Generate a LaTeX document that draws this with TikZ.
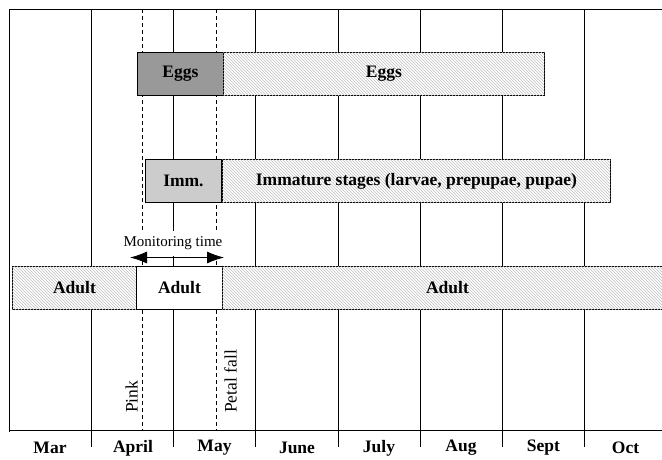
\documentclass[tikz,border=0pt]{standalone}
\usepackage{fontspec}
\setmainfont{Liberation Serif}
\usetikzlibrary{arrows.meta,%
                patterns,positioning}

\tikzset{
  bar/.style={draw, line width=0.9pt, minimum height=43pt, anchor=north west,
              inner sep=0pt, font=\fontsize{17.5}{20}\selectfont\bfseries},
  hatchbar/.style={bar, fill=white,
              postaction={pattern=north west lines, pattern color=black!25}},
  darkbar/.style={bar, fill=black!40},
  lightbar/.style={bar, fill=black!20},
  whitebar/.style={bar, fill=white},
  month/.style={font=\fontsize{17.5}{20}\selectfont\bfseries, inner sep=0pt},
  stage/.style={font=\fontsize{17.5}{20}\selectfont, rotate=90, anchor=west, inner sep=0pt},
  grid/.style={line width=0.8pt},
  mark line/.style={line width=0.7pt, dash pattern=on 4pt off 3pt}
}

\begin{document}
\begin{tikzpicture}[x=1pt,y=-1pt]
\useasboundingbox (0,0) rectangle (662,459);

% frame and axis
\draw[grid] (9,432) -- (9,9) -- (662,9);
\draw[grid] (9,430) -- (662,430);

% month lines
\draw[grid] (91.5,9) -- (91.5,447);
\draw[grid] (173.5,9) -- (173.5,447);
\draw[grid] (255.5,9) -- (255.5,447);
\draw[grid] (338,9) -- (338,447);
\draw[grid] (420,9) -- (420,447);
\draw[grid] (502.5,9) -- (502.5,447);
\draw[grid] (584.5,9) -- (584.5,447);

% pink and petal fall
\coordinate (pinkT) at (142.7,9);
\coordinate (pinkB) at (142.7,430);
\coordinate (petalT) at (216.7,9);
\coordinate (petalB) at (216.7,430);
\draw[mark line] (pinkT) -- (pinkB);
\draw[mark line] (petalT) -- (petalB);
\node[stage] (pink) at (131.5,413) {Pink};
\node[stage] (petal) at (230.5,413) {Petal fall};

% eggs
\node[darkbar, minimum width=86pt] (eggsA) at (137,52) {Eggs};
\node[hatchbar, minimum width=321pt] (eggsB) at (223,52) {Eggs};

% immature stages
\node[lightbar, minimum width=76pt] (immA) at (145,159) {Imm.};
\node[hatchbar, minimum width=388pt] (immB) at (222,159) {Immature stages (larvae, prepupae, pupae)};

% adults
\node[hatchbar, minimum width=124pt] (adultA) at (12,266) {Adult};
\node[whitebar, minimum width=86pt] (adultB) at (136,266) {Adult};
\node[hatchbar, minimum width=450pt] (adultC) at (222,266) {Adult};

% monitoring
\node[font=\fontsize{15}{17}\selectfont, fill=white, inner xsep=2pt, inner ysep=6pt] (montext) at (173,243.5) {Monitoring time};
\coordinate (monL) at (130,257.5);
\coordinate (monR) at (224,257.5);
\draw[{Latex[length=17pt,width=12pt]}-{Latex[length=17pt,width=12pt]}, line width=0.9pt] (monL) -- (monR);

% months
\node[month] (mar) at (50,448) {Mar};
\node[month] (apr) at (133,448) {April};
\node[month] (may) at (214.5,448) {May};
\node[month] (jun) at (297,448) {June};
\node[month] (jul) at (379,448) {July};
\node[month] (aug) at (461,448) {Aug};
\node[month] (sep) at (543.5,448) {Sept};
\node[month] (oct) at (625.5,448) {Oct};
\end{tikzpicture}
\end{document}
